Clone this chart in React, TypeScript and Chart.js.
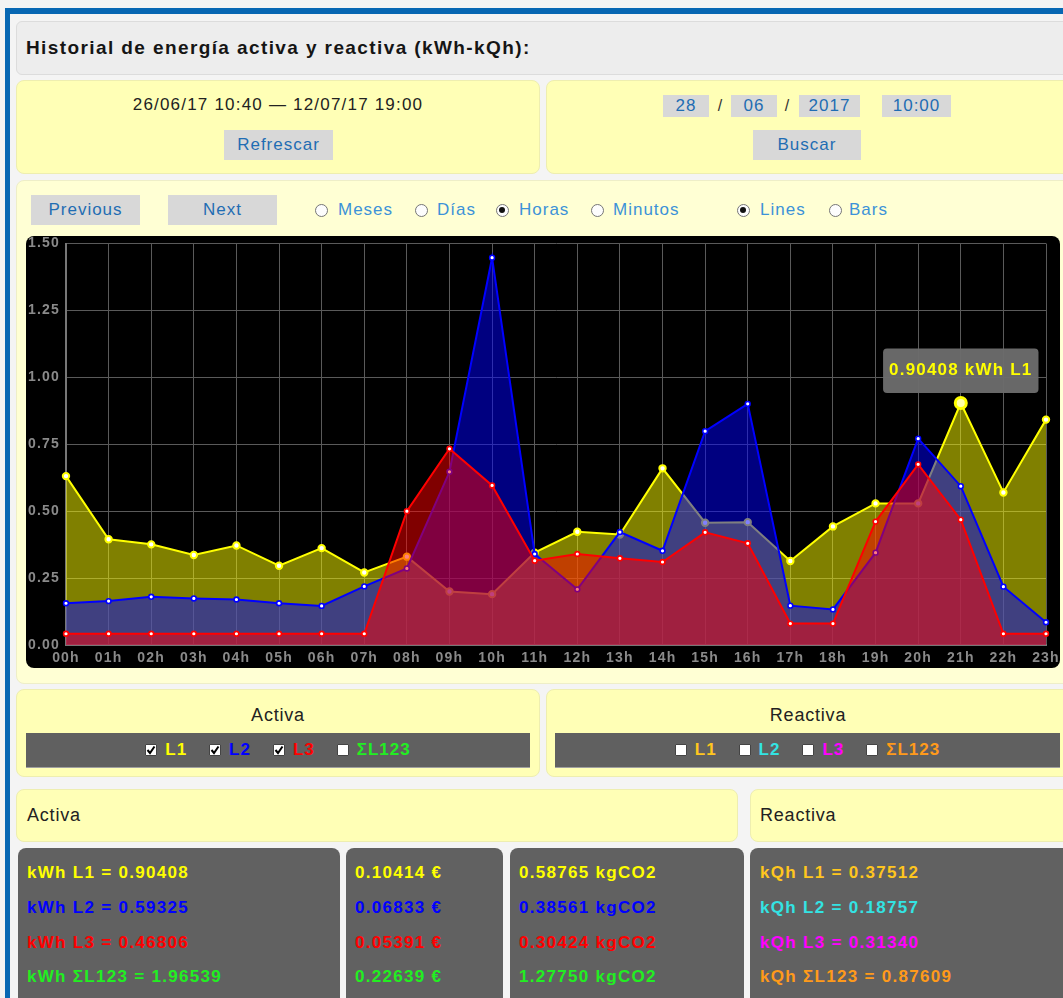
import React, { useEffect, useRef } from "react";
import { Chart, registerables } from "chart.js";

Chart.register(...registerables);

// ---------- data ----------
const hours = [
  "00h", "01h", "02h", "03h", "04h", "05h", "06h", "07h", "08h", "09h", "10h", "11h",
  "12h", "13h", "14h", "15h", "16h", "17h", "18h", "19h", "20h", "21h", "22h", "23h",
];
const activeL1 = [
  0.631, 0.395, 0.376, 0.336, 0.372, 0.296, 0.362, 0.271, 0.330, 0.200, 0.190, 0.345,
  0.423, 0.413, 0.660, 0.457, 0.459, 0.314, 0.443, 0.529, 0.529, 0.90408, 0.570, 0.842,
];
const activeL2 = [
  0.156, 0.164, 0.180, 0.174, 0.170, 0.156, 0.146, 0.219, 0.286, 0.647, 1.447, 0.340,
  0.208, 0.422, 0.352, 0.799, 0.901, 0.147, 0.133, 0.345, 0.771, 0.59325, 0.218, 0.085,
];
const activeL3 = [
  0.042, 0.042, 0.042, 0.042, 0.042, 0.042, 0.042, 0.042, 0.500, 0.733, 0.596, 0.315,
  0.340, 0.324, 0.310, 0.421, 0.380, 0.080, 0.080, 0.461, 0.675, 0.46806, 0.042, 0.042,
];
const seriesLabels = ["L1", "L2", "L3"];
const selectedHour = 21;
const yMin = 0;
const yMax = 1.5;
const yStep = 0.25;

const activeRows = ["kWh L1 = 0.90408", "kWh L2 = 0.59325", "kWh L3 = 0.46806", "kWh ΣL123 = 1.96539"];
const costRows = ["0.10414 €", "0.06833 €", "0.05391 €", "0.22639 €"];
const co2Rows = ["0.58765 kgCO2", "0.38561 kgCO2", "0.30424 kgCO2", "1.27750 kgCO2"];
const reactiveRows = ["kQh L1 = 0.37512", "kQh L2 = 0.18757", "kQh L3 = 0.31340", "kQh ΣL123 = 0.87609"];

const activeColors = ["#ffff00", "#0000ff", "#ff0000", "#22ee22"];
const reactiveColors = ["#ffc61e", "#33e3e3", "#ff00ff", "#ff9a1a"];
const activeChecks = [true, true, true, false];
const reactiveChecks = [false, false, false, false];
const checkLabels = ["L1", "L2", "L3", "ΣL123"];

// ---------- styles ----------
const FONT = '"Liberation Sans", Arial, Helvetica, sans-serif';
const YELLOW = "#ffffb6";
const YELLOW_LIGHT = "#ffffd4";
const BTN = "#d8d8d8";
const BLUE_TEXT = "#1f6db3";
const RADIO_TEXT = "#3c92d8";

function abs(left: number, top: number, width?: number, height?: number, extra: any = {}): any {
  return { position: "absolute", left, top, width, height, boxSizing: "border-box", ...extra };
}

const spacingPlugin = {
  id: "letterSpacing",
  beforeUpdate(chart: any) {
    chart.ctx.letterSpacing = "1.2px";
  },
  beforeDraw(chart: any) {
    chart.ctx.letterSpacing = "1.2px";
  },
};

function EnergyChart() {
  const ref = useRef<HTMLCanvasElement>(null);
  useEffect(() => {
    const canvas = ref.current;
    if (!canvas) return;
    const lineColors = ["#ffff00", "#0000ff", "#ff0000"];
    const fills = ["rgba(255,255,0,0.5)", "rgba(0,0,255,0.5)", "rgba(255,0,0,0.5)"];
    const radii = [3.2, 2.4, 2.4];
    const series = [activeL1, activeL2, activeL3];
    const datasets = series.map((data, i) => ({
      label: seriesLabels[i],
      data,
      borderColor: lineColors[i],
      backgroundColor: fills[i],
      borderWidth: 2,
      fill: "origin",
      tension: 0,
      order: 3 - i,
      pointBackgroundColor: "#ffffff",
      pointBorderColor: lineColors[i],
      pointBorderWidth: i === 0 ? 2 : 1.6,
      pointRadius: radii[i],
      pointHoverRadius: 5.5,
      pointHoverBorderWidth: 3,
      pointHoverBackgroundColor: "#ffffa8",
      pointHoverBorderColor: lineColors[i],
    }));
    const tickFont = { family: FONT, size: 14, weight: "bold" as const };
    const chart = new Chart(canvas, {
      type: "line",
      data: { labels: hours, datasets: datasets as any },
      options: {
        responsive: false,
        animation: false,
        events: [],
        layout: { padding: 0 },
        scales: {
          x: {
            grid: { color: "#5a5a5a", drawTicks: false },
            border: { color: "#777777", width: 2 },
            ticks: { color: "#8a8a8a", font: tickFont, padding: 5, autoSkip: false, maxRotation: 0 },
            afterFit: (scale: any) => {
              scale.height = 23;
              scale.paddingRight = 14;
              scale.paddingLeft = 14;
            },
          },
          y: {
            min: yMin,
            max: yMax,
            grid: { color: "#5a5a5a", drawTicks: false },
            border: { color: "#777777", width: 2 },
            ticks: {
              stepSize: yStep,
              color: "#8a8a8a",
              font: tickFont,
              padding: 6,
              callback: (v: any) => Number(v).toFixed(2),
            },
            afterFit: (scale: any) => {
              scale.width = 40;
              scale.paddingTop = 7;
              scale.paddingBottom = 7;
            },
          },
        },
        plugins: {
          legend: { display: false },
          tooltip: {
            enabled: true,
            displayColors: false,
            backgroundColor: "rgba(108,108,108,0.96)",
            bodyColor: "#ffff00",
            bodyFont: { family: FONT, size: 17, weight: "bold" },
            padding: { x: 6, y: 12 } as any,
            cornerRadius: 4,
            caretSize: 0,
            caretPadding: 10,
            xAlign: "center",
            yAlign: "bottom",
            callbacks: {
              title: () => "",
              label: (ctx: any) => `${ctx.parsed.y.toFixed(5)} kWh ${ctx.dataset.label}`,
            },
          },
        },
      },
      plugins: [spacingPlugin],
    });
    const active = [{ datasetIndex: 0, index: selectedHour }];
    chart.setActiveElements(active);
    chart.tooltip?.setActiveElements(active, { x: 0, y: 0 });
    chart.update();
    return () => chart.destroy();
  }, []);
  return <canvas ref={ref} width={1034} height={432} style={{ display: "block" }} />;
}

function Button({ left, top, width, height, text }: any) {
  return (
    <div
      style={abs(left, top, width, height, {
        background: BTN,
        color: BLUE_TEXT,
        fontSize: 17,
        letterSpacing: 1,
        display: "flex",
        alignItems: "center",
        justifyContent: "center",
      })}
    >
      {text}
    </div>
  );
}

function Radio({ cx, cy, labelX, label, checked }: any) {
  return (
    <>
      <div
        style={abs(cx - 6.5, cy - 6.5, 13, 13, {
          borderRadius: "50%",
          border: "1px solid #767676",
          background: "#fdfdfd",
        })}
      >
        {checked && (
          <div style={abs(2.5, 2.5, 6, 6, { borderRadius: "50%", background: "#111" })} />
        )}
      </div>
      <div style={abs(labelX, cy - 11, undefined, 22, { color: RADIO_TEXT, fontSize: 17, letterSpacing: 1, lineHeight: "22px", whiteSpace: "nowrap" })}>
        {label}
      </div>
    </>
  );
}

function CheckBox({ checked }: any) {
  return (
    <span
      style={{
        display: "inline-block",
        width: 12,
        height: 12,
        boxSizing: "border-box",
        background: "#ffffff",
        border: "1px solid #444",
        borderRadius: 1,
        marginRight: 8,
        position: "relative",
      }}
    >
      {checked && (
        <svg width="10" height="10" viewBox="0 0 10 10" style={{ position: "absolute", left: 0, top: 0 }}>
          <polyline points="1.5,5 4,8 8.5,1.5" fill="none" stroke="#000" strokeWidth="2" />
        </svg>
      )}
    </span>
  );
}

function CheckBar({ left, top, width, colors, checks }: any) {
  return (
    <div
      style={abs(left, top, width, 35, {
        background: "#606060",
        borderBottom: "1px solid #a0a0a0",
        display: "flex",
        alignItems: "center",
        justifyContent: "center",
        gap: 22,
      })}
    >
      {checkLabels.map((l, i) => (
        <span key={l} style={{ display: "inline-flex", alignItems: "center", color: colors[i], fontWeight: "bold", fontSize: 17, letterSpacing: 1 }}>
          <CheckBox checked={checks[i]} />
          {l}
        </span>
      ))}
    </div>
  );
}

function ValueBox({ left, width, textLeft, rows, colors }: any) {
  const tops = [862, 897, 932, 966];
  return (
    <>
      <div style={abs(left, 848, width, 170, { background: "#616161", borderRadius: 8 })} />
      {rows.map((r: string, i: number) => (
        <div
          key={r}
          style={abs(textLeft, tops[i], undefined, 22, {
            color: colors[i],
            fontWeight: "bold",
            fontSize: 17,
            letterSpacing: 1.3,
            lineHeight: "22px",
            whiteSpace: "nowrap",
          })}
        >
          {r}
        </div>
      ))}
    </>
  );
}

const headStyle = { fontSize: 18, letterSpacing: 0.8, lineHeight: "22px", color: "#222" };

export default function App() {
  const dateBoxes = [
    { left: 663, width: 46, text: "28" },
    { left: 731, width: 46, text: "06" },
    { left: 799, width: 61, text: "2017" },
    { left: 882, width: 69, text: "10:00" },
  ];
  return (
    <div style={abs(0, 0, 1063, 998, { overflow: "hidden", background: "#f3f3f3", fontFamily: FONT, color: "#222" })}>
      <div
        style={abs(5, 8, 1200, 1200, {
          borderLeft: "5px solid #0767b3",
          borderTop: "6px solid #0767b3",
          background: "#f4f4f4",
        })}
      />
      {/* title */}
      <div style={abs(16, 21, 1070, 54, { background: "#ededed", border: "1px solid #dcdcdc", borderRadius: 6 })} />
      <div style={abs(26, 37, undefined, 22, { fontWeight: "bold", fontSize: 19, letterSpacing: 1.4, lineHeight: "22px", color: "#151515", whiteSpace: "nowrap" })}>
        Historial de energía activa y reactiva (kWh-kQh):
      </div>

      {/* date range panel */}
      <div style={abs(16, 80, 524, 94, { background: YELLOW, border: "1px solid #eeeeb0", borderRadius: 8 })} />
      <div style={abs(16, 94, 524, 22, { textAlign: "center", fontSize: 17, letterSpacing: 1.2, lineHeight: "22px", color: "#222" })}>
        26/06/17 10:40 — 12/07/17 19:00
      </div>
      <Button left={224} top={130} width={109} height={30} text="Refrescar" />

      {/* date search panel */}
      <div style={abs(546, 80, 540, 94, { background: YELLOW, border: "1px solid #eeeeb0", borderRadius: 8 })} />
      {dateBoxes.map((d) => (
        <div
          key={d.text}
          style={abs(d.left, 95, d.width, 22, {
            background: BTN,
            color: BLUE_TEXT,
            fontSize: 17,
            letterSpacing: 1,
            lineHeight: "22px",
            textAlign: "center",
          })}
        >
          {d.text}
        </div>
      ))}
      <div style={abs(714, 95, 12, 22, { textAlign: "center", fontSize: 16, lineHeight: "22px", color: "#333" })}>/</div>
      <div style={abs(781, 95, 12, 22, { textAlign: "center", fontSize: 16, lineHeight: "22px", color: "#333" })}>/</div>
      <Button left={753} top={130} width={108} height={30} text="Buscar" />

      {/* chart panel */}
      <div style={abs(16, 180, 1070, 504, { background: YELLOW_LIGHT, border: "1px solid #eeeec8", borderRadius: 8 })} />
      <Button left={31} top={195} width={109} height={30} text="Previous" />
      <Button left={168} top={195} width={109} height={30} text="Next" />
      <Radio cx={321} cy={210} labelX={338} label="Meses" />
      <Radio cx={421} cy={210} labelX={437} label="Días" />
      <Radio cx={502} cy={210} labelX={519} label="Horas" checked />
      <Radio cx={597} cy={210} labelX={613} label="Minutos" />
      <Radio cx={743} cy={210} labelX={760} label="Lines" checked />
      <Radio cx={835} cy={210} labelX={849} label="Bars" />
      <div style={abs(26, 236, 1034, 432, { background: "#000", borderRadius: 8, overflow: "hidden" })}>
        <EnergyChart />
      </div>

      {/* series selection */}
      <div style={abs(16, 689, 524, 88, { background: YELLOW, border: "1px solid #eeeeb0", borderRadius: 8 })} />
      <div style={abs(16, 704, 524, 22, { ...headStyle, textAlign: "center" })}>Activa</div>
      <CheckBar left={26} top={733} width={504} colors={activeColors} checks={activeChecks} />

      <div style={abs(546, 689, 540, 88, { background: YELLOW, border: "1px solid #eeeeb0", borderRadius: 8 })} />
      <div style={abs(546, 704, 524, 22, { ...headStyle, textAlign: "center" })}>Reactiva</div>
      <CheckBar left={555} top={733} width={505} colors={reactiveColors} checks={reactiveChecks} />

      {/* totals */}
      <div style={abs(16, 789, 722, 53, { background: YELLOW, border: "1px solid #eeeeb0", borderRadius: 8 })} />
      <div style={abs(27, 804, undefined, 22, headStyle)}>Activa</div>
      <div style={abs(750, 789, 340, 53, { background: YELLOW, border: "1px solid #eeeeb0", borderRadius: 8 })} />
      <div style={abs(760, 804, undefined, 22, headStyle)}>Reactiva</div>

      <ValueBox left={18} width={322} textLeft={27} rows={activeRows} colors={activeColors} />
      <ValueBox left={346} width={157} textLeft={355} rows={costRows} colors={activeColors} />
      <ValueBox left={510} width={234} textLeft={519} rows={co2Rows} colors={activeColors} />
      <ValueBox left={750} width={340} textLeft={760} rows={reactiveRows} colors={reactiveColors} />
    </div>
  );
}
